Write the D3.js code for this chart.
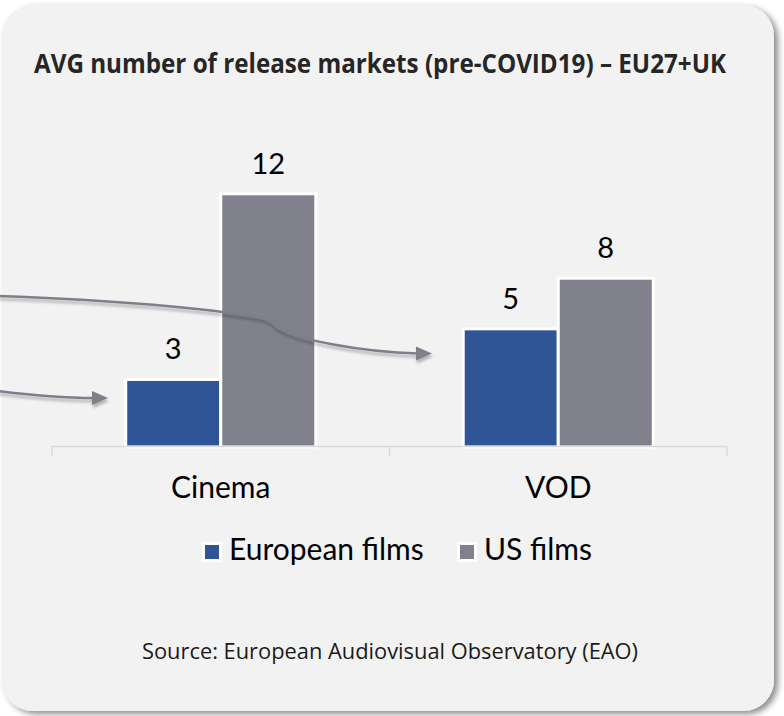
<!DOCTYPE html>
<html>
<head>
<meta charset="utf-8">
<script src="https://cdn.jsdelivr.net/npm/d3@7"></script>
<style>
  html, body { margin: 0; padding: 0; background: #ffffff; }
  svg { display: block; }
</style>
</head>
<body>
<svg id="chart" width="784" height="716"></svg>
<script>
// ---- data ----
const categories = ["Cinema", "VOD"];
const seriesNames = ["European films", "US films"];
const europeanValues = [3.2, 5.6];
const usValues = [12.0, 8.0];
const europeanLabels = ["3", "5"];
const usLabels = ["12", "8"];
const title = "AVG number of release markets (pre-COVID19) \u2013 EU27+UK";
const source = "Source: European Audiovisual Observatory (EAO)";

const colors = { "European films": "#2f5597", "US films": "#80818d" };
const rows = categories.map((c, i) => ({
  category: c,
  values: [
    { series: seriesNames[0], value: europeanValues[i], label: europeanLabels[i] },
    { series: seriesNames[1], value: usValues[i], label: usLabels[i] }
  ]
}));

const svg = d3.select("#chart");
const defs = svg.append("defs");

const cardShadow = defs.append("filter").attr("id", "cardShadow")
  .attr("x", "-5%").attr("y", "-5%").attr("width", "110%").attr("height", "110%");
cardShadow.append("feDropShadow").attr("dx", 4).attr("dy", 3).attr("stdDeviation", 3)
  .attr("flood-color", "#000").attr("flood-opacity", 0.45);

const lineShadow = defs.append("filter").attr("id", "lineShadow")
  .attr("x", "-10%").attr("y", "-50%").attr("width", "120%").attr("height", "200%");
lineShadow.append("feDropShadow").attr("dx", 1).attr("dy", 3).attr("stdDeviation", 1.8)
  .attr("flood-color", "#000").attr("flood-opacity", 0.28);

// card
svg.append("rect")
  .attr("x", 2).attr("y", 5).attr("width", 772).attr("height", 706)
  .attr("rx", 31).attr("ry", 31)
  .attr("fill", "#f2f2f2")
  .attr("filter", "url(#cardShadow)");

// title
svg.append("text")
  .attr("x", 34).attr("y", 73)
  .attr("textLength", 692).attr("lengthAdjust", "spacingAndGlyphs")
  .attr("font-family", "'Open Sans', sans-serif")
  .attr("font-weight", 700).attr("font-size", 26)
  .attr("fill", "#262626")
  .text(title);

// scales
const x = d3.scaleBand().domain(categories).range([52, 727]).padding(0);
const xSub = d3.scaleBand().domain(seriesNames).range([0, x.bandwidth()])
  .paddingInner(0).paddingOuter(0.776);
const y = d3.scaleLinear().domain([0, 14]).range([447, 447 - 14 * 21.1]);

// bars
const groups = svg.append("g").selectAll("g").data(rows).join("g")
  .attr("transform", d => `translate(${x(d.category)},0)`);

groups.selectAll("rect").data(d => d.values).join("rect")
  .attr("x", d => xSub(d.series))
  .attr("y", d => y(d.value))
  .attr("width", xSub.bandwidth())
  .attr("height", d => y(0) - y(d.value))
  .attr("fill", d => colors[d.series])
  .attr("stroke", "#ffffff")
  .attr("stroke-width", 3);

groups.selectAll("text").data(d => d.values).join("text")
  .attr("x", d => xSub(d.series) + xSub.bandwidth() / 2)
  .attr("y", d => y(d.value) - 20)
  .attr("text-anchor", "middle")
  .attr("font-family", "Lato, sans-serif")
  .attr("font-size", 29)
  .attr("fill", "#000")
  .text(d => d.label);

// axis
const axis = d3.axisBottom(x).tickSize(10).tickPadding(0).tickFormat("");
const axisG = svg.append("g").attr("transform", "translate(0,446.5)").call(axis);
axisG.select(".domain").attr("stroke", "#d9d9d9").attr("stroke-width", 1.5)
  .attr("d", "M52,0H727");
axisG.selectAll(".tick").remove();
const boundaries = [x.range()[0]].concat(categories.map(c => x(c) + x.bandwidth()));
axisG.selectAll("line.b").data(boundaries).join("line").attr("class", "b")
  .attr("x1", d => d).attr("x2", d => d).attr("y1", 0).attr("y2", 10)
  .attr("stroke", "#d9d9d9").attr("stroke-width", 1.5);

svg.append("g").selectAll("text").data(categories).join("text")
  .attr("x", d => x(d) + x.bandwidth() / 2)
  .attr("y", 498)
  .attr("text-anchor", "middle")
  .attr("font-family", "Lato, sans-serif")
  .attr("font-size", 30)
  .attr("fill", "#000")
  .text(d => d);

// annotation arrows
const arrowColor = "#7d7f8b";
const ann = svg.append("g").attr("filter", "url(#lineShadow)");
ann.append("path")
  .attr("d", "M-2,296 C80,299 190,305 262,318 C272,320 274,326 280,329 C300,340 360,352 418,353.5")
  .attr("fill", "none").attr("stroke", arrowColor).attr("stroke-width", 2.5);
ann.append("path")
  .attr("d", "M432,353.5 L416,346.5 L416,360.5 Z").attr("fill", arrowColor);
ann.append("path")
  .attr("d", "M-2,391 C30,395 60,398 94,398")
  .attr("fill", "none").attr("stroke", arrowColor).attr("stroke-width", 2.5);
ann.append("path")
  .attr("d", "M108,398 L92,391 L92,405 Z").attr("fill", arrowColor);

// legend
const legendItems = [
  { name: seriesNames[0], x: 205 },
  { name: seriesNames[1], x: 460 }
];
const lg = svg.append("g").selectAll("g").data(legendItems).join("g")
  .attr("transform", d => `translate(${d.x},545)`);
lg.append("rect").attr("x", -3).attr("y", -3).attr("width", 20).attr("height", 20).attr("fill", "#fff");
lg.append("rect").attr("x", 0).attr("y", 0).attr("width", 14).attr("height", 14)
  .attr("fill", d => colors[d.name]);
lg.append("text").attr("x", 24).attr("y", 14.5)
  .attr("font-family", "Lato, sans-serif")
  .attr("font-size", 30)
  .attr("fill", "#000")
  .text(d => d.name);

// source
svg.append("text")
  .attr("x", 142).attr("y", 659)
  .attr("textLength", 496).attr("lengthAdjust", "spacingAndGlyphs")
  .attr("font-family", "'Open Sans', sans-serif")
  .attr("font-size", 21)
  .attr("fill", "#1a1a1a")
  .text(source);
</script>
</body>
</html>
